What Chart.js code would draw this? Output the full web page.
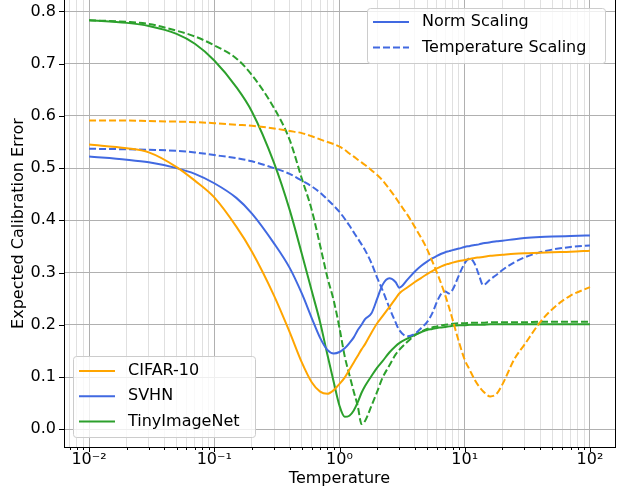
<!DOCTYPE html>
<html>
<head>
<meta charset="utf-8">
<script src="https://cdn.jsdelivr.net/npm/chart.js@4"></script>
<style>
  html, body { margin: 0; padding: 0; background: #fff; }
  canvas { display: block; }
</style>
</head>
<body>
<canvas id="chart" width="620" height="490"></canvas>
<script>
// temperature grid (log x axis)
const temps = [0.01, 0.02, 0.03, 0.05, 0.07, 0.1, 0.15, 0.2, 0.3, 0.4,
  0.5, 0.6, 0.7, 0.8, 0.9, 1.0, 1.1, 1.2, 1.3, 1.4,
  1.5, 1.6, 1.8, 2, 2.2, 2.5, 2.8, 3, 3.5, 4,
  4.5, 5, 5.5, 6, 6.5, 7, 7.5, 8, 9, 10,
  11, 12, 13, 14, 16, 18, 20, 25, 30, 40,
  50, 70, 100];

// norm scaling (solid)
const cifarNorm = [0.545, 0.538, 0.530, 0.502, 0.476, 0.444, 0.388, 0.340, 0.256, 0.186,
  0.128, 0.090, 0.072, 0.068, 0.075, 0.087, 0.099, 0.114, 0.128, 0.141,
  0.153, 0.163, 0.185, 0.203, 0.216, 0.234, 0.250, 0.260, 0.272, 0.282,
  0.290, 0.297, 0.303, 0.308, 0.312, 0.315, 0.317, 0.319, 0.322, 0.324,
  0.326, 0.328, 0.329, 0.330, 0.332, 0.333, 0.334, 0.336, 0.337, 0.338,
  0.339, 0.340, 0.342];
const svhnNorm = [0.522, 0.516, 0.511, 0.500, 0.489, 0.471, 0.443, 0.413, 0.356, 0.309,
  0.260, 0.213, 0.175, 0.152, 0.145, 0.148, 0.155, 0.165, 0.176, 0.190,
  0.200, 0.211, 0.222, 0.250, 0.276, 0.289, 0.282, 0.271, 0.287, 0.302,
  0.313, 0.321, 0.327, 0.332, 0.336, 0.339, 0.341, 0.343, 0.346, 0.349,
  0.351, 0.353, 0.354, 0.356, 0.358, 0.360, 0.361, 0.364, 0.366, 0.368,
  0.369, 0.370, 0.371];
const tinyNorm = [0.783, 0.778, 0.772, 0.757, 0.738, 0.706, 0.655, 0.608, 0.510, 0.420,
  0.336, 0.265, 0.205, 0.143, 0.090, 0.045, 0.024, 0.026, 0.036, 0.052,
  0.070, 0.083, 0.102, 0.118, 0.130, 0.147, 0.159, 0.165, 0.174, 0.181,
  0.186, 0.190, 0.192, 0.194, 0.195, 0.196, 0.197, 0.198, 0.199, 0.199,
  0.200, 0.200, 0.200, 0.200, 0.201, 0.201, 0.201, 0.201, 0.201, 0.201,
  0.201, 0.201, 0.201];

// temperature scaling (dashed)
const cifarTemp = [0.591, 0.591, 0.590, 0.589, 0.588, 0.586, 0.583, 0.581, 0.576, 0.571,
  0.567, 0.561, 0.555, 0.550, 0.546, 0.541, 0.535, 0.528, 0.522, 0.516,
  0.511, 0.506, 0.496, 0.487, 0.477, 0.460, 0.444, 0.433, 0.410, 0.387,
  0.366, 0.345, 0.322, 0.300, 0.278, 0.256, 0.233, 0.210, 0.167, 0.133,
  0.113, 0.095, 0.082, 0.073, 0.063, 0.068, 0.086, 0.135, 0.162, 0.205,
  0.230, 0.256, 0.272];
const svhnTemp = [0.537, 0.536, 0.535, 0.533, 0.530, 0.525, 0.519, 0.513, 0.500, 0.489,
  0.476, 0.465, 0.453, 0.440, 0.428, 0.416, 0.403, 0.390, 0.377, 0.365,
  0.354, 0.343, 0.318, 0.290, 0.267, 0.233, 0.205, 0.190, 0.178, 0.183,
  0.194, 0.205, 0.222, 0.244, 0.260, 0.264, 0.260, 0.267, 0.295, 0.318,
  0.327, 0.317, 0.295, 0.276, 0.287, 0.296, 0.305, 0.320, 0.329, 0.339,
  0.344, 0.349, 0.352];
const tinyTemp = [0.783, 0.780, 0.776, 0.763, 0.752, 0.735, 0.710, 0.678, 0.615, 0.554,
  0.480, 0.420, 0.352, 0.291, 0.246, 0.194, 0.140, 0.104, 0.072, 0.044,
  0.010, 0.016, 0.045, 0.072, 0.098, 0.122, 0.143, 0.152, 0.168, 0.180,
  0.187, 0.192, 0.195, 0.197, 0.199, 0.200, 0.201, 0.202, 0.203, 0.203,
  0.204, 0.204, 0.204, 0.204, 0.205, 0.205, 0.205, 0.205, 0.205, 0.206,
  0.206, 0.206, 0.206];

const datasetNames = ['CIFAR-10', 'SVHN', 'TinyImageNet'];
const methodNames = ['Norm Scaling', 'Temperature Scaling'];
const yTickValues = [0, 0.1, 0.2, 0.3, 0.4, 0.5, 0.6, 0.7, 0.8];

const ORANGE = '#ffa500';
const BLUE = '#4169e1';
const GREEN = '#2ca02c';
const DASH = [7, 3];
const FONT = '"DejaVu Sans", sans-serif';

// matplotlib style axis limits (5% margins)
const xMin = Math.pow(10, -2.2);
const xMax = Math.pow(10, 2.2);
const yMin = -0.0339;
const yMax = 0.8218;

const toPoints = vals => vals.map((v, i) => ({ x: temps[i], y: v }));

const isMajor = v => Math.abs(Math.log10(v) - Math.round(Math.log10(v))) < 1e-9;

// major + minor ticks for the log axis
const xTickValues = [];
for (let k = -3; k <= 2; k++) {
  for (let m = 1; m <= 9; m++) {
    const v = m * Math.pow(10, k);
    if (v >= xMin && v <= xMax) xTickValues.push(v);
  }
}

const supMap = { '-': '\u207B', '0': '\u2070', '1': '\u00B9', '2': '\u00B2', '3': '\u00B3' };
const powLabel = v => '10' + String(Math.round(Math.log10(v))).split('').map(c => supMap[c]).join('');

function drawLegend(ctx, box, items) {
  ctx.save();
  ctx.fillStyle = 'rgba(255,255,255,0.8)';
  ctx.strokeStyle = '#cccccc';
  ctx.lineWidth = 1;
  ctx.beginPath();
  ctx.roundRect(box.x + 0.5, box.y + 0.5, box.w, box.h, 3);
  ctx.fill();
  ctx.stroke();
  items.forEach((it, i) => {
    const y = box.y + box.first + i * box.step;
    ctx.strokeStyle = it.color;
    ctx.lineWidth = 2;
    ctx.setLineDash(it.dash || []);
    ctx.beginPath();
    ctx.moveTo(box.x + 6, y);
    ctx.lineTo(box.x + 42, y);
    ctx.stroke();
    ctx.setLineDash([]);
    ctx.fillStyle = '#000';
    ctx.font = '16px ' + FONT;
    ctx.textBaseline = 'middle';
    ctx.textAlign = 'left';
    ctx.fillText(it.label, box.x + 55, y);
  });
  ctx.restore();
}

const extras = {
  id: 'extras',
  afterDraw(chart) {
    const { ctx, chartArea: a, scales: { x, y } } = chart;
    ctx.save();
    ctx.strokeStyle = '#000';
    ctx.lineWidth = 1;
    ctx.beginPath();
    // right spine
    ctx.moveTo(Math.round(a.right) + 0.5, a.top);
    ctx.lineTo(Math.round(a.right) + 0.5, a.bottom);
    // x tick marks
    xTickValues.forEach(v => {
      const px = Math.round(x.getPixelForValue(v)) + 0.5;
      ctx.moveTo(px, a.bottom);
      ctx.lineTo(px, a.bottom + (isMajor(v) ? 5 : 3));
    });
    // y tick marks
    yTickValues.forEach(v => {
      const py = Math.round(y.getPixelForValue(v)) + 0.5;
      ctx.moveTo(a.left - 5, py);
      ctx.lineTo(a.left, py);
    });
    ctx.stroke();
    ctx.restore();

    drawLegend(ctx, { x: 367, y: 8, w: 238, h: 55, first: 14, step: 25.4 }, [
      { label: methodNames[0], color: BLUE },
      { label: methodNames[1], color: BLUE, dash: DASH }
    ]);
    drawLegend(ctx, { x: 73, y: 356, w: 182, h: 81, first: 15, step: 25.3 }, [
      { label: datasetNames[0], color: ORANGE },
      { label: datasetNames[1], color: BLUE },
      { label: datasetNames[2], color: GREEN }
    ]);
  }
};

const line = (data, color, dashed) => ({
  data: toPoints(data),
  borderColor: color,
  backgroundColor: color,
  borderWidth: 2,
  borderDash: dashed ? DASH : [],
  pointRadius: 0,
  cubicInterpolationMode: 'monotone',
  fill: false
});

new Chart(document.getElementById('chart'), {
  type: 'line',
  data: {
    datasets: [
      line(cifarNorm, ORANGE, false),
      line(cifarTemp, ORANGE, true),
      line(svhnNorm, BLUE, false),
      line(svhnTemp, BLUE, true),
      line(tinyNorm, GREEN, false),
      line(tinyTemp, GREEN, true)
    ]
  },
  options: {
    responsive: false,
    animation: false,
    devicePixelRatio: 1,
    layout: { padding: { left: 0, right: 5, top: 0, bottom: 0 } },
    plugins: {
      legend: { display: false },
      tooltip: { enabled: false }
    },
    scales: {
      x: {
        type: 'logarithmic',
        min: xMin,
        max: xMax,
        afterBuildTicks: s => { s.ticks = xTickValues.map(v => ({ value: v })); },
        afterFit: s => { s.height = 43; s.paddingLeft = 0; s.paddingRight = 0; },
        ticks: {
          autoSkip: false,
          maxRotation: 0,
          padding: 3,
          color: '#000',
          font: { family: FONT, size: 16 },
          callback: v => isMajor(v) ? powLabel(v) : ''
        },
        grid: {
          drawTicks: false,
          lineWidth: 1,
          color: c => (c.tick && isMajor(c.tick.value)) ? '#b0b0b0' : '#e0e0e0'
        },
        border: { color: '#000', width: 1 },
        title: {
          display: true,
          text: 'Temperature',
          color: '#000',
          font: { family: FONT, size: 16 },
          padding: { top: 0, bottom: 2 }
        }
      },
      y: {
        min: yMin,
        max: yMax,
        afterBuildTicks: s => { s.ticks = yTickValues.map(v => ({ value: v })); },
        afterFit: s => { s.width = 64; s.paddingTop = 0; s.paddingBottom = 0; },
        ticks: {
          padding: 8,
          color: '#000',
          font: { family: FONT, size: 16 },
          callback: v => v.toFixed(1)
        },
        grid: { drawTicks: false, lineWidth: 1, color: '#b0b0b0' },
        border: { color: '#000', width: 1 },
        title: {
          display: true,
          text: 'Expected Calibration Error',
          color: '#000',
          font: { family: FONT, size: 16 },
          padding: { top: 9, bottom: 0 }
        }
      }
    }
  },
  plugins: [extras]
});
</script>
</body>
</html>
